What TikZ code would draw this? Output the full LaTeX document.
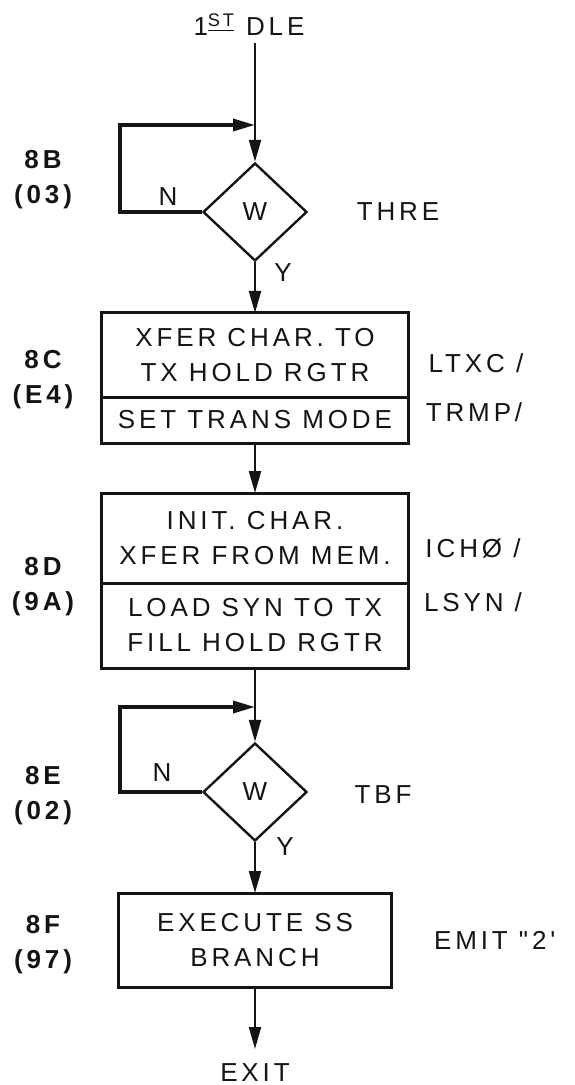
\documentclass[tikz,border=0pt]{standalone}
\usepackage{fontspec}
\usepackage{tikz}
\usetikzlibrary{arrows.meta, positioning, shapes.geometric}
\newfontfamily\handfont[LetterSpace=15]{Liberation Sans}
\definecolor{Ink}{HTML}{141414}

\begin{document}
\begin{tikzpicture}[x=0.5pt, y=-0.5pt, >={Triangle[length=11pt, width=6pt]},
        lettering/.style={font=\handfont\fontsize{13}{17.5}\selectfont, text=Ink, align=center},
        address/.style={lettering, font=\handfont\bfseries\fontsize{13}{17.5}\selectfont},
        stepbox/.style={draw=Ink, line width=1.5pt, minimum width=153.5pt, inner sep=0pt, outer sep=0pt, lettering},
        waitdiamond/.style={diamond, draw=Ink, line width=1.2pt, minimum width=52pt, minimum height=49pt, inner sep=0pt, lettering},
        flow/.style={draw=Ink, line width=1.1pt},
        loopline/.style={draw=Ink, line width=1.7pt}]
        \useasboundingbox (0,0) rectangle (574,1085);

        % Entry point
        \node[lettering] (start) at (249,25) {1\textsuperscript{\underline{ST}} DLE};

        % Wait loop on THRE
        \node[waitdiamond] (thre) at (255,212) {W};
        \coordinate (join1) at (255,125);
        \coordinate (back1) at (120,125);
        \draw[flow] (start.south -| join1) -- (join1);
        \draw[flow, ->] (join1) -- (thre.north);
        \draw[loopline, ->] (thre.west) -| (back1) -- (join1);
        \node[lettering] (n1) at (168,197) {N};
        \node[lettering] (y1) at (283,273) {Y};
        \node[lettering] (threlbl) at (398,212) {THRE};
        \node[address] (a8b) at (43,180) {8B\\(03)};

        % Step 8C
        \node[stepbox, minimum height=42pt] (ltxc) at (255,355) {XFER CHAR. TO\\TX HOLD RGTR};
        \node[stepbox, minimum height=23pt, below=0pt of ltxc] (trmp) {SET TRANS MODE};
        \draw[flow, ->] (thre.south) -- (ltxc.north);
        \node[lettering] (ltxclbl) at (476,363) {LTXC /};
        \node[lettering] (trmplbl) at (474,412) {TRMP/};
        \node[address] (a8c) at (43,380) {8C\\(E4)};

        % Step 8D
        \node[stepbox, minimum height=45pt] (icho) at (255,538) {INIT. CHAR.\\XFER FROM MEM.};
        \node[stepbox, minimum height=42.5pt, below=0pt of icho] (lsyn) {LOAD SYN TO TX\\FILL HOLD RGTR};
        \draw[flow, ->] (trmp.south) -- (icho.north);
        \node[lettering] (icholbl) at (473,548) {ICHØ /};
        \node[lettering] (lsynlbl) at (473,602) {LSYN /};
        \node[address] (a8d) at (43,587) {8D\\(9A)};

        % Wait loop on TBF
        \node[waitdiamond] (tbf) at (255,792) {W};
        \coordinate (join2) at (255,707);
        \coordinate (back2) at (120,707);
        \draw[flow] (lsyn.south) -- (join2);
        \draw[flow, ->] (join2) -- (tbf.north);
        \draw[loopline, ->] (tbf.west) -| (back2) -- (join2);
        \node[lettering] (n2) at (162,773) {N};
        \node[lettering] (y2) at (285,847) {Y};
        \node[lettering] (tbflbl) at (383,795) {TBF};
        \node[address] (a8e) at (43,796) {8E\\(02)};

        % Step 8F and exit
        \node[stepbox, minimum width=136.5pt, minimum height=47pt] (emit) at (255,940) {EXECUTE SS\\BRANCH};
        \node[lettering] (exit) at (255,1073) {EXIT};
        \draw[flow, ->] (tbf.south) -- (emit.north);
        \draw[flow, ->, shorten >=4pt] (emit.south) -- (exit.north);
        \node[lettering, anchor=west] (emitlbl) at (427,940) {EMIT "2'};
        \node[address] (a8f) at (43,945) {8F\\(97)};
\end{tikzpicture}
\end{document}
